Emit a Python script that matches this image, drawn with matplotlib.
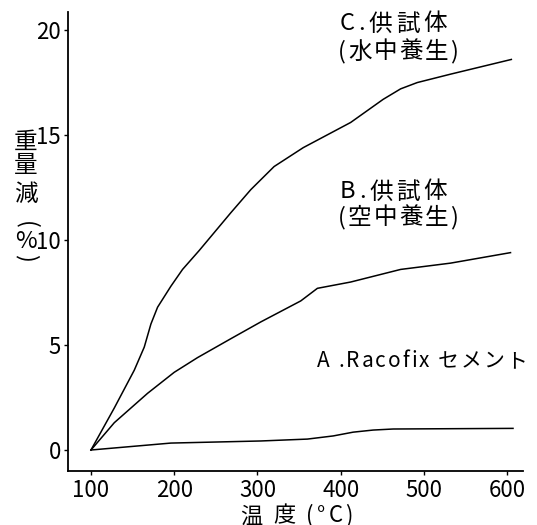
import matplotlib
matplotlib.use('Agg')
import matplotlib.pyplot as plt

plt.rcParams['font.family'] = ['Noto Sans CJK JP', 'DejaVu Sans']

# 温度 (°C) と重量減 (%)
temp_a = [100, 196, 304, 360, 391, 415, 439, 463, 607]
loss_a = [0, 0.33, 0.43, 0.52, 0.67, 0.85, 0.95, 1.0, 1.03]

temp_b = [100, 128, 168, 200, 228, 268, 304, 352, 372, 412, 472, 532, 604]
loss_b = [0, 1.3, 2.7, 3.7, 4.4, 5.3, 6.1, 7.1, 7.7, 8.0, 8.6, 8.9, 9.4]

temp_c = [100, 128, 152, 164, 172, 180, 196, 210, 230, 268, 292, 320,
          355, 412, 451, 472, 492, 532, 605]
loss_c = [0, 2.0, 3.8, 4.9, 6.0, 6.8, 7.8, 8.6, 9.5, 11.3, 12.4, 13.5,
          14.4, 15.6, 16.7, 17.2, 17.5, 17.9, 18.6]

x_ticks = [100, 200, 300, 400, 500, 600]
y_ticks = [0, 5, 10, 15, 20]

W, H = 537, 525
fig = plt.figure(figsize=(W / 100, H / 100), dpi=100)
ax = fig.add_axes([68 / W, 1 - 471 / H, (523 - 68) / W, (471 - 12) / H])

for t, l in [(temp_a, loss_a), (temp_b, loss_b), (temp_c, loss_c)]:
    ax.plot(t, l, color='black', lw=1.1)

ax.set_xlim(72.4, 619)
ax.set_ylim(-1.0, 20.86)
ax.set_xticks(x_ticks)
ax.set_yticks(y_ticks)
ax.tick_params(labelsize=16, length=3, width=1, pad=2)
ax.tick_params(axis='x', pad=3)

for s in ['top', 'right']:
    ax.spines[s].set_visible(False)
for s in ['left', 'bottom']:
    ax.spines[s].set_linewidth(1.3)

renderer = fig.canvas.get_renderer()


def spaced(x, y, s, size, gap):
    # 一文字ずつ並べて字間をあける (x, y はピクセル)
    for ch in s:
        t = fig.text(x / W, 1 - y / H, ch, fontsize=size, ha='left', va='center')
        x += t.get_window_extent(renderer).width + gap


# 曲線の名前
spaced(340, 24, 'C.供試体', 17, 3.5)
spaced(338, 52, '(水中養生)', 17, 2)
spaced(340, 192, 'B.供試体', 17, 3.5)
spaced(338, 218, '(空中養生)', 17, 2)
spaced(317, 361, 'A .Racofix セメント', 15, 2)

# 縦軸の名前(縦書き)
for ch, y in [('重', 142), ('量', 165), ('減', 194)]:
    fig.text(26 / W, 1 - y / H, ch, fontsize=17, ha='center', va='center')
fig.text(26 / W, 1 - 225 / H, '(', fontsize=17, rotation=-90, ha='center', va='center')
fig.text(26 / W, 1 - 241 / H, '%', fontsize=17, ha='center', va='center')
fig.text(26 / W, 1 - 258 / H, ')', fontsize=17, rotation=-90, ha='center', va='center')

# 横軸の名前
spaced(240, 516, '温 度 (°C)', 16, 3)

fig.savefig('out.png', dpi=100)
